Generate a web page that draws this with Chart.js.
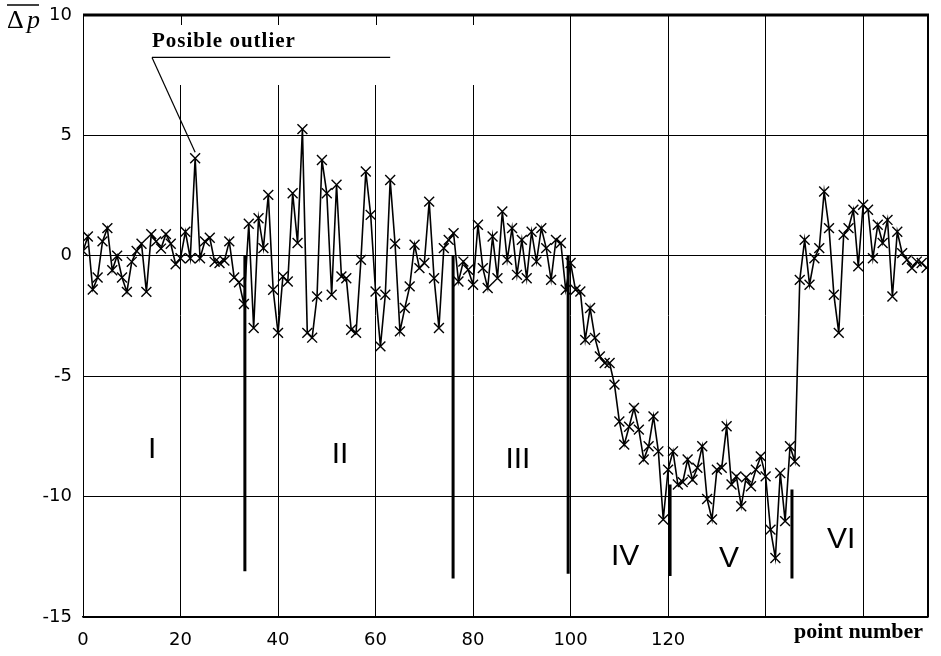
<!DOCTYPE html>
<html>
<head>
<meta charset="utf-8">
<script src="https://cdn.jsdelivr.net/npm/chart.js@4"></script>
<style>
  html, body { margin: 0; padding: 0; background: #fff; }
  #wrap { width: 941px; height: 656px; }
</style>
</head>
<body>
<div id="wrap"><canvas id="chart" width="941" height="656"></canvas></div>
<script>
// mean pressure deviation per point
const dp = [
  0.2, 0.8, -1.4, -0.9, 0.6, 1.15, -0.6, 0.0, -0.9, -1.5,
  -0.25, 0.2, 0.5, -1.5, 0.9, 0.6, 0.3, 0.9, 0.5, -0.35,
  -0.1, 1.0, -0.1, 4.05, -0.1, 0.6, 0.75, -0.25, -0.3, -0.2,
  0.6, -0.9, -1.1, -2.0, 1.33, -3.0, 1.56, 0.32, 2.53, -1.41,
  -3.2, -0.86, -1.07, 2.6, 0.53, 5.26, -3.2, -3.4, -1.69, 3.98,
  2.6, -1.62, 2.95, -0.86, -0.93, -3.07, -3.2, -0.17, 3.5, 1.7,
  -1.48, -3.76, -1.62, 3.15, 0.5, -3.14, -2.17, -1.27, 0.46, -0.51,
  -0.3, 2.25, -0.93, -3.0, 0.32, 0.66, 0.94, -1.07, -0.24, -0.58,
  -1.2, 1.29, -0.51, -1.34, 0.8, -0.93, 1.84, -0.17, 1.15, -0.79,
  0.66, -0.93, 1.0, -0.24, 1.15, 0.32, -1.0, 0.66, 0.53, -1.41,
  -0.3, -1.41, -1.48, -3.49, -2.17, -3.41, -4.18, -4.45, -4.45, -5.35,
  -6.88, -7.84, -7.1, -6.32, -7.22, -8.46, -7.91, -6.67, -8.12, -10.95,
  -8.88, -8.12, -9.5, -9.4, -8.46, -9.3, -8.8, -7.91, -10.1, -10.95,
  -8.88, -8.8, -7.08, -9.5, -9.16, -10.4, -9.2, -9.57, -8.88, -8.33,
  -9.16, -11.37, -12.55, -9.02, -11.02, -7.91, -8.54, -1.0, 0.66, -1.2,
  -0.1, 0.32, 2.67, 1.15, -1.62, -3.2, 0.87, 1.15, 1.91, -0.44,
  2.12, 1.91, -0.1, 1.29, 0.53, 1.49, -1.69, 1.0, 0.11, -0.17,
  -0.51, -0.24, -0.3, -0.5
];

// boundaries between the six zones
const dividerX = [33.2, 75.9, 99.5, 120.4, 145.4];
const dividerTop = [0, 0, 0, -9.5, -9.7];
const dividerBottom = [-13.1, -13.4, -13.2, -13.3, -13.4];

const zoneNames = ['I', 'II', 'III', 'IV', 'V', 'VI'];
const zoneX = [14.2, 52.7, 89.2, 111.2, 132.5, 155.5];
const zoneY = [-8.05, -8.26, -8.46, -12.5, -12.58, -11.8];

const xTicks = [0, 20, 40, 60, 80, 100, 120];
const outlierIdx = 23;
const calloutText = 'Posible outlier';
const calloutLine = { x0: 14.15, x1: 63.0, y: 8.24 };

const points = dp.map((v, i) => ({ x: i, y: v }));

const datasets = [{
  data: points,
  borderColor: '#000',
  borderWidth: 1.6,
  pointStyle: 'crossRot',
  pointRadius: 7,
  pointBorderWidth: 1.4,
  pointBorderColor: '#000',
  tension: 0,
  order: 1
}];
dividerX.forEach((x, i) => {
  datasets.push({
    data: [{ x: x, y: dividerTop[i] }, { x: x, y: dividerBottom[i] }],
    borderColor: '#000',
    borderWidth: 3,
    pointRadius: 0,
    order: 2
  });
});

const decor = {
  id: 'decor',
  beforeDatasetsDraw(chart) {
    const { ctx, chartArea: a, scales: { x, y } } = chart;
    ctx.save();
    // blank band behind the callout, grid lines only resume below it
    ctx.fillStyle = '#fff';
    ctx.fillRect(a.left + 1, a.top + 1, x.getPixelForValue(100) - a.left - 3, 84 - a.top);
    ctx.strokeStyle = '#000';
    ctx.lineWidth = 1;
    [20, 40, 60, 80].forEach(v => {
      const px = Math.round(x.getPixelForValue(v)) + 0.5;
      ctx.beginPath();
      ctx.moveTo(px, a.top);
      ctx.lineTo(px, a.top + 10);
      ctx.stroke();
    });
    // heavy top frame, right frame
    ctx.lineWidth = 3;
    ctx.beginPath();
    ctx.moveTo(a.left, a.top);
    ctx.lineTo(a.right + 1, a.top);
    ctx.stroke();
    ctx.lineWidth = 2;
    ctx.beginPath();
    ctx.moveTo(a.right, a.top);
    ctx.lineTo(a.right, a.bottom);
    ctx.stroke();
    ctx.restore();
  },
  afterDatasetsDraw(chart) {
    const { ctx, scales: { x, y } } = chart;
    ctx.save();
    ctx.fillStyle = '#000';
    ctx.strokeStyle = '#000';

    // zone numerals
    ctx.font = '30px "Liberation Sans"';
    ctx.textAlign = 'center';
    ctx.textBaseline = 'middle';
    zoneNames.forEach((n, i) => {
      ctx.fillText(n, x.getPixelForValue(zoneX[i]), y.getPixelForValue(zoneY[i]));
    });

    // outlier callout
    const lx0 = x.getPixelForValue(calloutLine.x0);
    const lx1 = x.getPixelForValue(calloutLine.x1);
    const ly = y.getPixelForValue(calloutLine.y);
    ctx.font = 'bold 21px "Liberation Serif"';
    ctx.letterSpacing = '1px';
    ctx.textAlign = 'left';
    ctx.textBaseline = 'alphabetic';
    ctx.fillText(calloutText, lx0, ly - 10);
    ctx.letterSpacing = '0px';
    ctx.lineWidth = 1.2;
    ctx.beginPath();
    ctx.moveTo(lx0, ly);
    ctx.lineTo(lx1, ly);
    ctx.stroke();
    const ox = x.getPixelForValue(outlierIdx);
    const oy = y.getPixelForValue(dp[outlierIdx]);
    ctx.beginPath();
    ctx.moveTo(lx0, ly);
    ctx.lineTo(ox, oy - 6);
    ctx.stroke();

    // y axis title: mean of delta p
    ctx.font = '26px "Liberation Serif"';
    ctx.textBaseline = 'alphabetic';
    ctx.fillText('\u0394', 7, 28);
    ctx.font = 'italic 26px "Liberation Serif"';
    ctx.fillText('p', 27, 28);
    ctx.lineWidth = 1.5;
    ctx.beginPath();
    ctx.moveTo(7, 5);
    ctx.lineTo(39, 5);
    ctx.stroke();

    // x axis title
    ctx.font = 'bold 22px "Liberation Serif"';
    ctx.textAlign = 'right';
    ctx.fillText('point number', 923, 638);
    ctx.restore();
  }
};

new Chart(document.getElementById('chart'), {
  type: 'line',
  data: { datasets },
  options: {
    responsive: false,
    animation: false,
    devicePixelRatio: 1,
    layout: { padding: { top: 15, right: 13, left: 0, bottom: 0 } },
    plugins: { legend: { display: false }, tooltip: { enabled: false } },
    scales: {
      x: {
        type: 'linear',
        min: 0,
        max: 173.3,
        afterFit: s => { s.height = 39; s.paddingLeft = 0; s.paddingRight = 0; },
        afterBuildTicks: s => { s.ticks = [0, 20, 40, 60, 80, 100, 120, 140, 160].map(v => ({ value: v })); },
        ticks: {
          color: '#000',
          padding: 13,
          maxRotation: 0,
          font: { family: 'DejaVu Sans', size: 18 },
          callback: v => xTicks.includes(v) ? String(v) : ''
        },
        grid: { color: '#000', lineWidth: 1, drawTicks: false },
        border: { color: '#000', width: 1.5 }
      },
      y: {
        min: -15,
        max: 10,
        afterFit: s => { s.width = 83; s.paddingTop = 0; s.paddingBottom = 0; },
        ticks: {
          stepSize: 5,
          color: '#000',
          padding: 11,
          font: { family: 'DejaVu Sans', size: 18 }
        },
        grid: { color: '#000', lineWidth: 1, drawTicks: false },
        border: { color: '#000', width: 1 }
      }
    }
  },
  plugins: [decor]
});
</script>
</body>
</html>
